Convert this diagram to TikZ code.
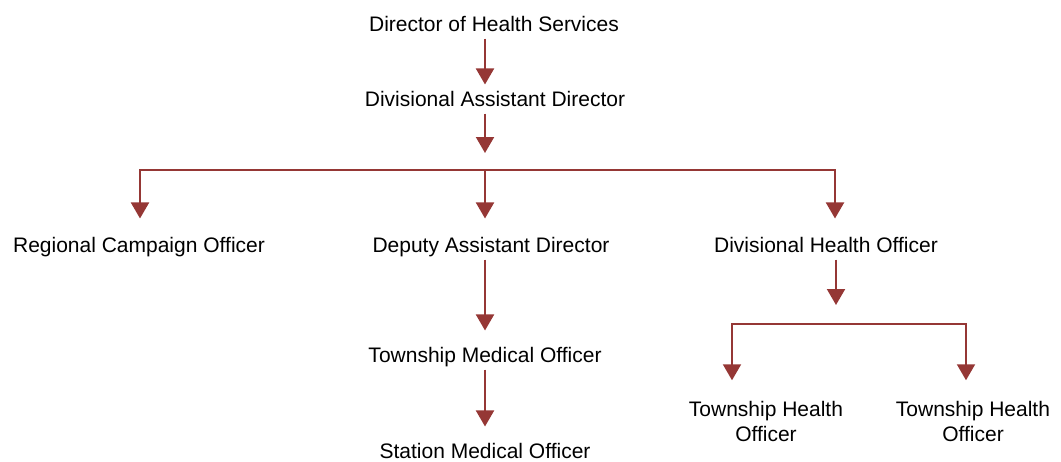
\documentclass[tikz,border=0pt]{standalone}
\usepackage{fontspec}
\setmainfont{Liberation Sans}
\usetikzlibrary{arrows.meta}
\definecolor{chartred}{RGB}{149,55,53}

\begin{document}
\begin{tikzpicture}[x=1pt, y=-1pt, font=\fontsize{21}{25}\selectfont,
  post/.style={text height=15pt, text depth=4pt},
  post2/.style={align=center},
  link/.style={draw=chartred, line width=2pt},
  arr/.style={link, -{Triangle[length=16pt,width=18pt]}}]
\useasboundingbox (0,0) rectangle (1061,461);

\node[post]    (dhs)    at (494,25.5)    {Director of Health Services};
\node[post]    (dad)    at (495,100.5)   {Divisional Assistant Director};
\node[post]    (rco)    at (139,246.5)   {Regional Campaign Officer};
\node[post]    (dpd)    at (491,246.5)   {Deputy Assistant Director};
\node[post]    (dho)    at (826,246.5)   {Divisional Health Officer};
\node[post]    (tmo)    at (485,356.5)   {Township Medical Officer};
\node[post]    (smo)    at (485,452.5)   {Station Medical Officer};
\node[post2]   (tho1)   at (766,421)     {Township Health\\Officer};
\node[post2]   (tho2)   at (973,421)     {Township Health\\Officer};

\coordinate (spine) at (485,0);
\coordinate (hub)   at (485,153);
\coordinate (busM)  at (485,170);
\coordinate (busL)  at (140,170);
\coordinate (busR)  at (835,170);
\coordinate (sub)   at (836,305);
\coordinate (subM)  at (836,324);
\coordinate (subL)  at (732,324);
\coordinate (subR)  at (966,324);

% main line
\draw[arr, shorten >=3pt]  (dhs.south -| spine) -- (dad.north -| spine);
\draw[arr]                 (dad.south -| spine) -- (hub);

% first split
\draw[arr, shorten >=15pt] (busM) -- (busL) -- (rco.north -| busL);
\draw[arr, shorten >=15pt] (busM) -- (dpd.north -| busM);
\draw[arr, shorten >=15pt] (busM) -- (busR) -- (dho.north -| busR);

% medical side
\draw[arr, shorten >=13pt] (dpd.south -| spine) -- (tmo.north -| spine);
\draw[arr, shorten >=13pt] (tmo.south) -- (smo.north);

% health side
\draw[arr]                 (dho.south -| sub) -- (sub);
\draw[arr, shorten >=17pt] (subM) -- (subL) -- (tho1.north -| subL);
\draw[arr, shorten >=17pt] (subM) -- (subR) -- (tho2.north -| subR);

\end{tikzpicture}
\end{document}
